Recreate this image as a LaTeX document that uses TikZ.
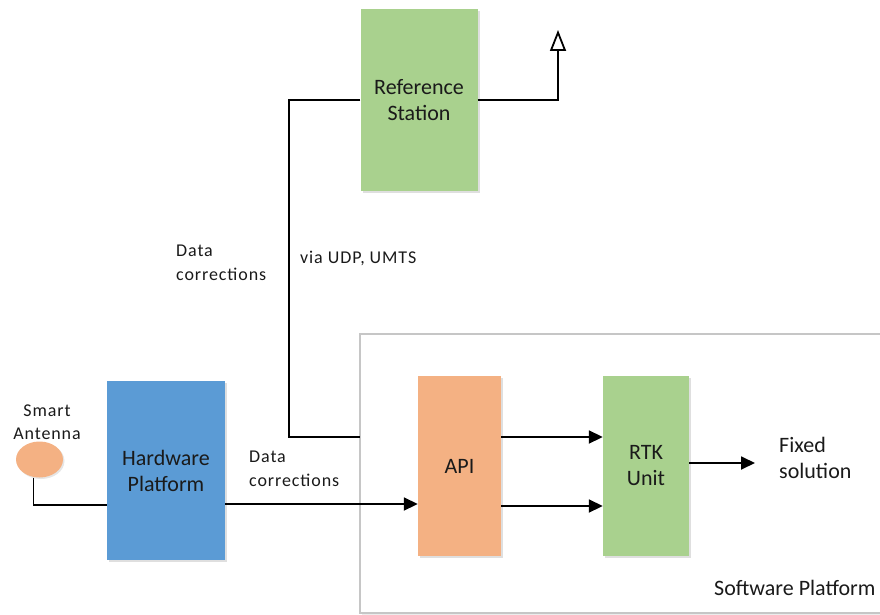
\documentclass[tikz,border=0pt]{standalone}
\usepackage{fontspec}
\setmainfont{Carlito}
\newfontfamily\spacedfont[LetterSpace=5]{Carlito}
\usetikzlibrary{arrows.meta,shadows,positioning,shapes.geometric}
\newcommand\bigtxt{\fontsize{22}{26}\selectfont}
\newcommand\smalltxt{\spacedfont\fontsize{18}{23.5}\selectfont}
\definecolor{hwblue}{HTML}{5B9BD5}
\definecolor{apiorange}{HTML}{F4B183}
\definecolor{rsgreen}{HTML}{A9D18E}
\definecolor{txt}{HTML}{1A1A1A}
\tikzset{
  blockbox/.style={inner sep=0pt, align=center, text=txt, font=\bigtxt,
    drop shadow={opacity=0.25, shadow xshift=2pt, shadow yshift=-2pt}},
  conn/.style={line width=1.8pt, black},
  arr/.style={conn, -{Triangle[length=14pt,width=13pt]}},
  lbl/.style={inner sep=0pt, align=left, text=txt, anchor=west},
}
\begin{document}
\begin{tikzpicture}[x=1pt,y=-1pt]
\path[use as bounding box] (0,0) rectangle (880,615);
\clip (0,0) rectangle (880,615);
% software platform frame
\node[draw=gray!45, line width=1.6pt, fill=white, minimum width=560pt, minimum height=279pt,
  drop shadow={opacity=0.15, shadow xshift=2pt, shadow yshift=-2pt}, inner sep=0pt] (swp) at (640,473.5) {};
\node[lbl, font=\bigtxt] (swpl) at (714,588) {Software Platform};
% blocks
\node[blockbox, fill=rsgreen, minimum width=117pt, minimum height=181pt] (rs) at (419,100) {Reference\\Station};
\node[blockbox, fill=hwblue, minimum width=118pt, minimum height=179pt] (hp) at (166,470.5) {Hardware\\Platform};
\node[blockbox, fill=apiorange, minimum width=83pt, minimum height=180pt] (api) at (459.5,466) {API};
\node[blockbox, fill=rsgreen, minimum width=86pt, minimum height=180pt] (rtk) at (646,466) {RTK\\Unit};
\node[fill=apiorange, ellipse, minimum width=47pt, minimum height=36pt, inner sep=0pt,
  drop shadow={opacity=0.2, shadow xshift=1.5pt, shadow yshift=-1.5pt}] (ant) at (39.5,459.5) {};
% labels
\node[inner sep=0pt, align=center, text=txt, font=\smalltxt] (antl) at (47,422) {Smart\\Antenna};
\node[lbl, font=\smalltxt] (dc1) at (176,263) {Data\\corrections};
\node[lbl, font=\smalltxt] (udp) at (300,258) {via UDP, UMTS};
\node[lbl, font=\smalltxt] (dc2) at (249,469) {Data\\corrections};
\node[lbl, font=\bigtxt] (fix) at (779,458) {Fixed\\solution};
% connectors
\coordinate (bend) at (289,100);
\coordinate (join) at (360,437);
\draw[conn] (rs.west) -- (bend) |- (join);
\coordinate (tip) at (558,30);
\draw[conn, -{Triangle[open,length=21pt,width=16pt,line width=1.8pt]}] (rs.east) -| (tip);
\coordinate (hpin) at (107,505);
\draw[conn] ([xshift=-6pt]ant.south) |- (hpin);
\draw[arr] ([yshift=-33.5pt]hp.east) -- ([yshift=-33.5pt]hp.east -| api.west);
\draw[arr] ([yshift=29pt]api.east) -- ([yshift=29pt]api.east -| rtk.west);
\draw[arr] ([yshift=-40pt]api.east) -- ([yshift=-40pt]api.east -| rtk.west);
\coordinate (fixin) at (755,463);
\draw[arr] ([yshift=3pt]rtk.east) -- (fixin);
\end{tikzpicture}
\end{document}
